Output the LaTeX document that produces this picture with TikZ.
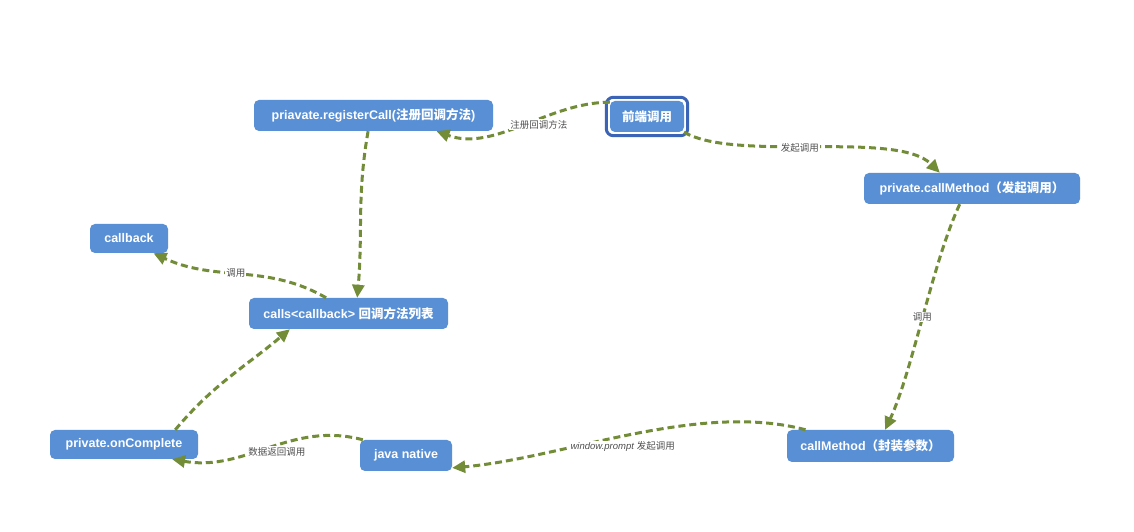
\documentclass[tikz,border=0pt]{standalone}
\usepackage{fontspec}
\setmainfont{Liberation Sans}
\newfontfamily\cjkfont{Noto Sans CJK SC}
\usepackage{tikz}
\usetikzlibrary{arrows.meta}
\definecolor{boxblue}{RGB}{88,143,213}
\definecolor{selblue}{RGB}{60,100,182}
\definecolor{linkgreen}{RGB}{114,140,56}
\definecolor{labelgray}{RGB}{80,80,80}
\newcommand{\zh}[1]{{\cjkfont #1}}
\tikzstyle{box}=[rectangle,rounded corners=5pt,fill=boxblue,text=white,font=\fontsize{12.5}{14}\selectfont\bfseries,minimum height=31pt,inner sep=2pt]
\tikzstyle{link}=[draw=linkgreen,line width=3pt,dash pattern=on 7pt off 4pt,-{Triangle[length=13pt,width=12pt]}]
\tikzstyle{lbl}=[fill=white,text=labelgray,font=\fontsize{9.5}{11}\selectfont,inner sep=1pt]

\begin{document}
\begin{tikzpicture}[x=1pt,y=1pt]
  \fill[white] (0,0) rectangle (1134,532);
  \useasboundingbox (0,0) rectangle (1134,532);
  \node[box,minimum width=239pt] (REG) at (373.5,416.5) {priavate.registerCall(\zh{注册回调方法})};
  \node[box,minimum width=74pt] (FE)  at (647,415.5)   {\zh{前端调用}};
  \node[box,minimum width=216pt] (PCM) at (972,343.5)  {private.callMethod\zh{（发起调用）}};
  \node[box,minimum width=78pt,minimum height=29pt] (CB) at (129,293.5) {callback};
  \node[box,minimum width=199pt] (CL)  at (348.5,218.5) {calls<callback> \zh{回调方法列表}};
  \node[box,minimum width=148pt,minimum height=29pt] (OC) at (124,87.5) {private.onComplete};
  \node[box,minimum width=92pt] (JN)  at (406,76.5)    {java native};
  \node[box,minimum width=167pt,minimum height=32pt] (CM) at (870.5,86) {callMethod\zh{（封装参数）}};
  % selected node
  \draw[selblue,line width=3pt,rounded corners=7pt] ([shift={(-3.5,-3.5)}]FE.south west) rectangle ([shift={(3.5,3.5)}]FE.north east);
  % links
  \draw[link] (FE.159) to[out=180,in=-20,looseness=0.9] node[lbl,pos=0.4,yshift=-6pt] {\zh{注册回调方法}} (REG.-14);
  \draw[link] (FE.-23) to[out=-30,in=135,looseness=0.6] node[lbl,pos=0.45] {\zh{发起调用}} (PCM.154);
  \draw[link] (PCM.-128) to[out=-115,in=65,looseness=0.7] node[lbl,pos=0.5] {\zh{调用}} (CM.48);
  \draw[link] (CM.166) to[out=165,in=5,looseness=0.8] node[lbl,pos=0.52,yshift=-11pt] {\textit{window.prompt} \zh{发起调用}} (JN.-15);
  \draw[link] (JN.160) to[out=165,in=-10] node[lbl,pos=0.45,yshift=-7pt] {\zh{数据返回调用}} (OC.-17);
  \draw[link] (OC.16) to[out=50,in=-140] (CL.-165);
  \draw[link] (REG.-109) to[out=-100,in=85] (CL.61);
  \draw[link] (CL.145) to[out=150,in=-25] node[lbl,pos=0.53] {\zh{调用}} (CB.-31);
\end{tikzpicture}
\end{document}
